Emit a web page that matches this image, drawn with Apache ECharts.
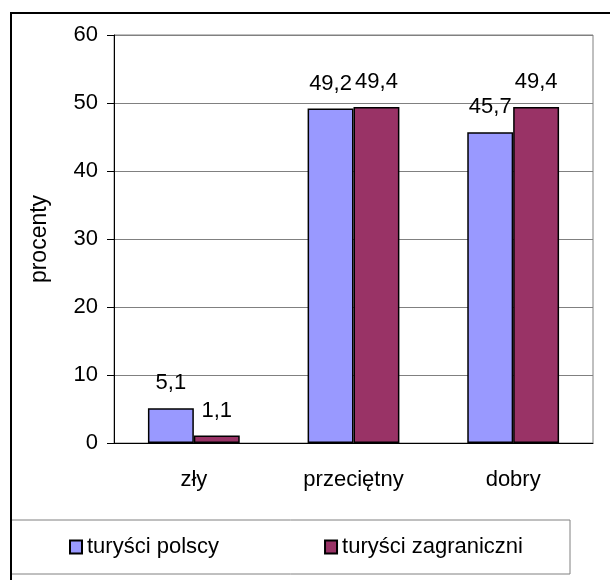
<!DOCTYPE html>
<html>
<head>
<meta charset="utf-8">
<script src="https://cdn.jsdelivr.net/npm/echarts@6/dist/echarts.min.js"></script>
<style>
  html, body { margin: 0; padding: 0; background: #fff; }
  #main { width: 610px; height: 580px; }
</style>
</head>
<body>
<div id="main"></div>
<script>
var categories = ['zły', 'przeciętny', 'dobry'];
var polscy = [5.1, 49.2, 45.7];
var zagraniczni = [1.1, 49.4, 49.4];
var seriesNames = ['turyści polscy', 'turyści zagraniczni'];

var FONT = 'Liberation Sans, Arial, sans-serif';

var myChart = echarts.init(document.getElementById('main'));

function commaLabel(p) {
    return String(p.value).replace('.', ',');
}

var option = {
    animation: false,
    backgroundColor: '#fff',
    textStyle: { fontFamily: FONT },
    graphic: [
        // zewnętrzna ramka wykresu
        {
            type: 'rect',
            shape: { x: 11, y: 13, width: 700, height: 700 },
            style: { fill: 'none', stroke: '#000', lineWidth: 2 },
            z: 100
        },
        // ramka legendy
        {
            type: 'rect',
            shape: { x: 11, y: 520, width: 559, height: 54 },
            style: { fill: 'none', stroke: '#808080', lineWidth: 1 },
            z: 99
        }
    ],
    grid: {
        left: 114,
        right: 17,
        top: 35,
        bottom: 137,
        show: true,
        borderColor: '#808080',
        borderWidth: 1
    },
    legend: {
        left: 69,
        top: 536,
        padding: 0,
        itemWidth: 12,
        itemHeight: 13,
        itemGap: 105,
        icon: 'rect',
        textStyle: { fontFamily: FONT, fontSize: 22, color: '#000' },
        data: seriesNames
    },
    xAxis: {
        type: 'category',
        data: categories,
        axisLine: { lineStyle: { color: '#000', width: 1 } },
        axisTick: { length: 7, lineStyle: { color: '#000' } },
        axisLabel: { margin: 26, fontFamily: FONT, fontSize: 22, color: '#000' }
    },
    yAxis: {
        type: 'value',
        min: 0,
        max: 60,
        interval: 10,
        name: 'procenty',
        nameLocation: 'middle',
        nameGap: 63,
        nameTextStyle: { fontFamily: FONT, fontSize: 23, color: '#000' },
        axisLine: { show: true, lineStyle: { color: '#000', width: 1 } },
        axisTick: { show: true, length: 7, lineStyle: { color: '#000' } },
        axisLabel: { margin: 16, fontFamily: FONT, fontSize: 22, color: '#000' },
        splitLine: { show: true, lineStyle: { color: '#808080', width: 1 } }
    },
    series: [
        {
            name: seriesNames[0],
            type: 'bar',
            data: polscy,
            barGap: '0%',
            barCategoryGap: '42.5%',
            itemStyle: { color: '#9999FF', borderColor: '#000', borderWidth: 1.5 },
            label: {
                show: true,
                position: 'top',
                distance: 14,
                formatter: commaLabel,
                fontFamily: FONT,
                fontSize: 22,
                color: '#000'
            }
        },
        {
            name: seriesNames[1],
            type: 'bar',
            data: zagraniczni,
            itemStyle: { color: '#993366', borderColor: '#000', borderWidth: 1.5 },
            label: {
                show: true,
                position: 'top',
                distance: 14,
                formatter: commaLabel,
                fontFamily: FONT,
                fontSize: 22,
                color: '#000'
            }
        }
    ]
};

myChart.setOption(option);
</script>
</body>
</html>
